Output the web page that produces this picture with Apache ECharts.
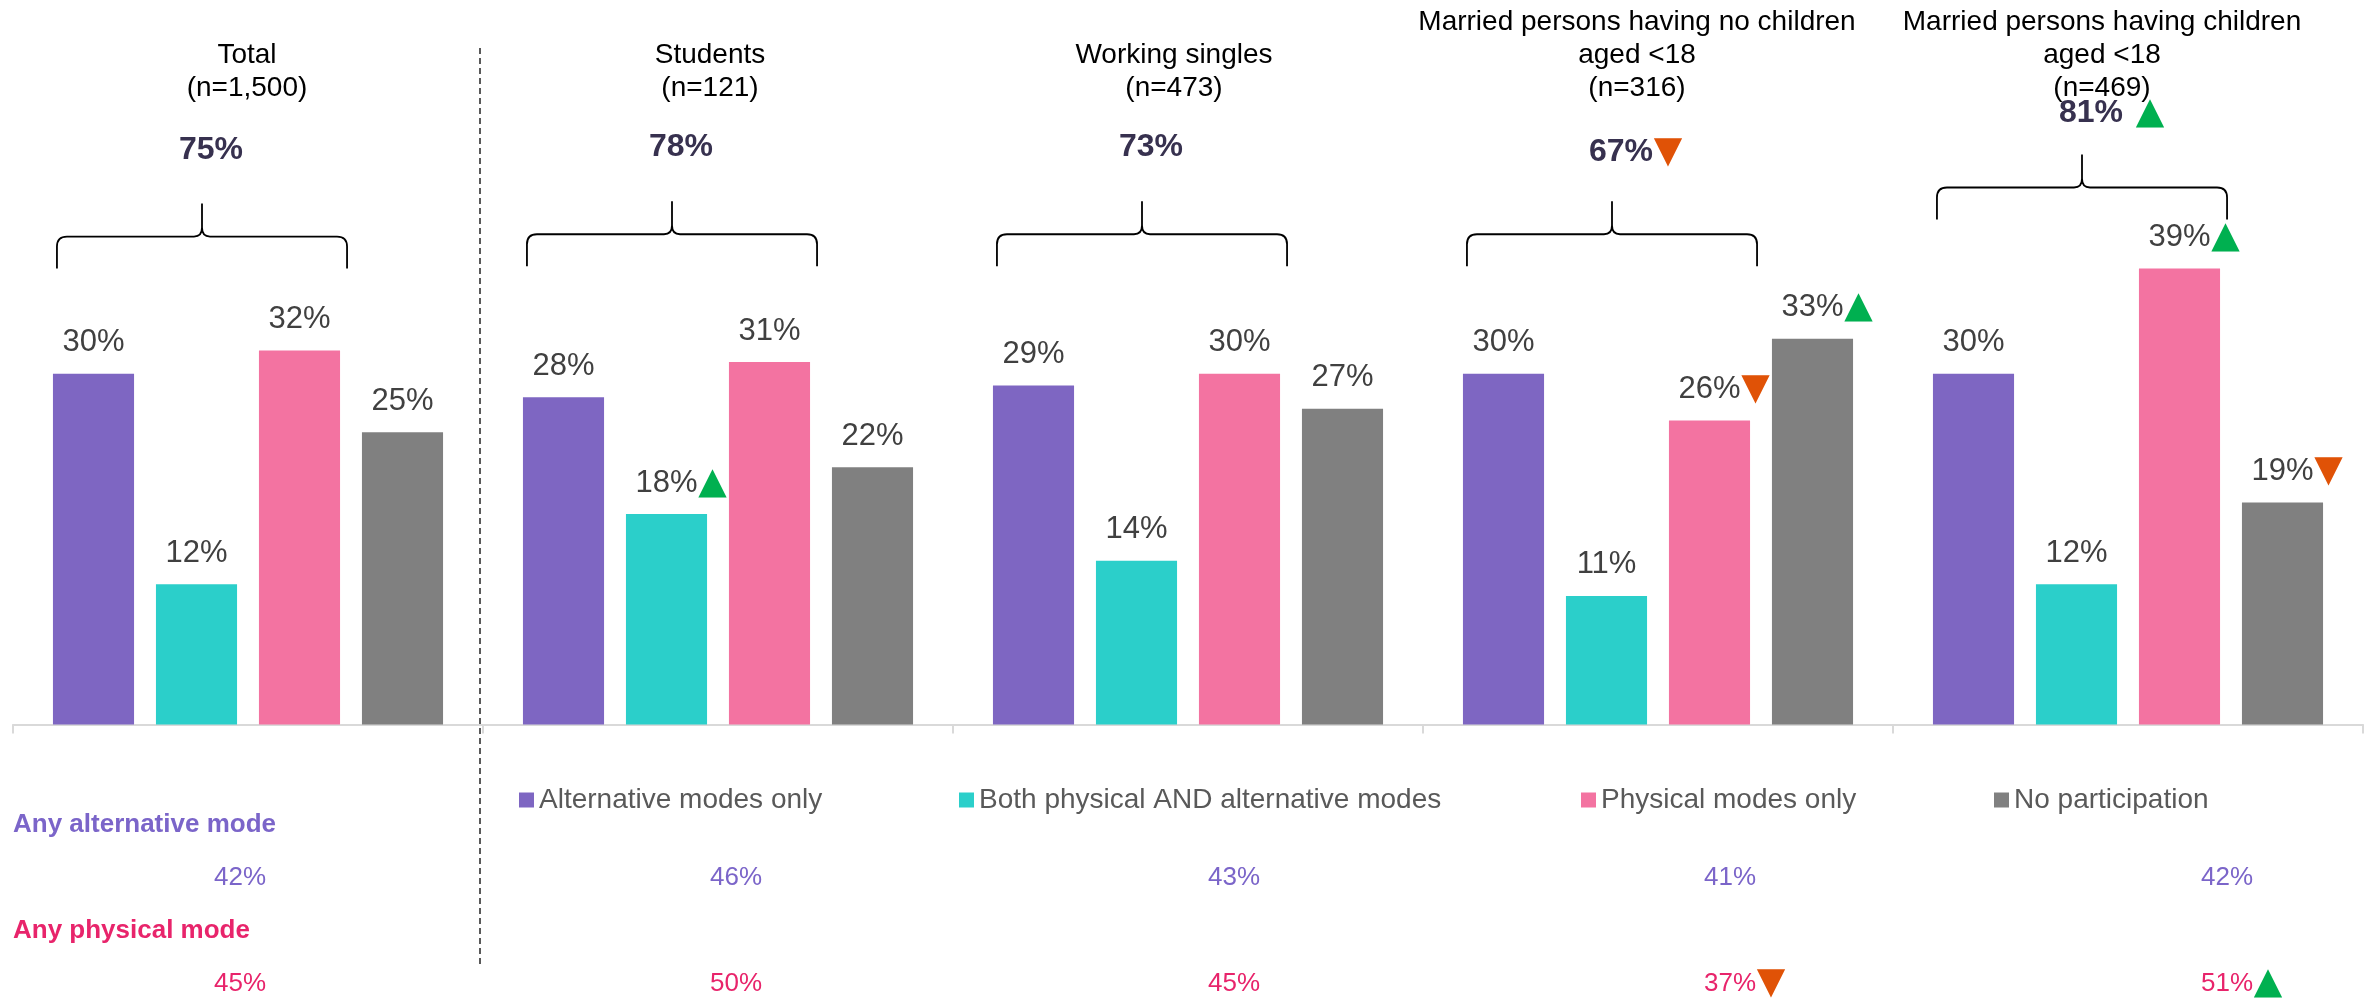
<!DOCTYPE html>
<html>
<head>
<meta charset="utf-8">
<title>Participation by mode</title>
<script src="https://cdn.jsdelivr.net/npm/echarts@6/dist/echarts.min.js"></script>
<style>
  html, body { margin: 0; padding: 0; background: #fff; }
  #chart { width: 2369px; height: 1002px; }
</style>
</head>
<body>
<div id="chart"></div>
<script>
// ---- data ----
const groups = ['Total', 'Students', 'Working singles', 'Married no children', 'Married with children'];
const groupTitles = [
  'Total\n(n=1,500)',
  'Students\n(n=121)',
  'Working singles\n(n=473)',
  'Married persons having no children\naged <18\n(n=316)',
  'Married persons having children\naged <18\n(n=469)'
];
const seriesNames = ['Alternative modes only', 'Both physical AND alternative modes', 'Physical modes only', 'No participation'];
const altOnly = [30, 28, 29, 30, 30];
const bothModes = [12, 18, 14, 11, 12];
const physOnly = [32, 31, 30, 26, 39];
const noPart = [25, 22, 27, 33, 19];
const participated = [75, 78, 73, 67, 81];
const anyAlt = [42, 46, 43, 41, 42];
const anyPhys = [45, 50, 45, 37, 51];
// significance vs total: 'up' | 'down' | ''
const sigAlt = ['', '', '', '', ''];
const sigBoth = ['', 'up', '', '', ''];
const sigPhys = ['', '', '', 'down', 'up'];
const sigNone = ['', '', '', 'up', 'down'];
const sigParticipated = ['', '', '', 'down', 'up'];
const sigAnyAlt = ['', '', '', '', ''];
const sigAnyPhys = ['', '', '', 'down', 'up'];

// ---- look & layout ----
const FONT = '"Liberation Sans", Arial, sans-serif';
const colors = ['#7E66C2', '#2BCFCA', '#F373A1', '#808080'];
const PURPLE = '#7B65C9';
const CRIMSON = '#E8246B';
const GREEN = '#00B050';
const ORANGE = '#E05206';
const BAR_GAP = 0.27;
const CAT_GAP = 0.17;
const MARK_W = 30;
const MARK_SIZE = 37;
const braceLevel = [39, 39.2, 39.2, 39.2, 43.2];
const labelLift = [53, 54, 54, 49, 41];
const overallMarkGap = [0, 0, 0, 0, 12];
const titleShift = [-1, -8, -14, -21, -26];
const pctShift = [-8, 18, 46, 72, 99];
const legendLeft = [519, 959, 1581, 1994];

function markStyles(colorKey) {
  const mk = c => ({ fontFamily: 'DejaVu Sans', fontSize: MARK_SIZE, lineHeight: 36, [colorKey]: c, width: MARK_W, align: 'left' });
  const s = { up: mk(GREEN), down: mk(ORANGE) };
  overallMarkGap.forEach(g => { if (g) s['sp' + g] = { width: g, lineHeight: 36 }; });
  return s;
}
const markRich = markStyles('color');      // for series labels / axis labels
const markRichFill = markStyles('fill');   // for custom-series text elements
const mark = s => s ? `{${s}|${s === 'up' ? '▲' : '▼'}}` : '';

// padding that moves the number by `shift` px, leaving room for a marker on the right
function padFor(shift, markW) {
  const k = 2 * shift + markW;
  return [0, Math.max(0, -k), 0, Math.max(0, k)];
}

const titleRich = {};
groups.forEach((g, i) => {
  titleRich['t' + i] = { fontSize: 28, lineHeight: 33, color: '#000', fontFamily: FONT, padding: padFor(titleShift[i], 0) };
});

const pctRich = Object.assign({}, markRich);
groups.forEach((g, i) => {
  pctRich['a' + i] = { fontSize: 26, lineHeight: 106, color: PURPLE, fontFamily: FONT, padding: padFor(pctShift[i], sigAnyAlt[i] ? MARK_W : 0) };
  pctRich['p' + i] = { fontSize: 26, lineHeight: 106, color: CRIMSON, fontFamily: FONT, padding: padFor(pctShift[i], sigAnyPhys[i] ? MARK_W : 0) };
});

const barSigs = [sigAlt, sigBoth, sigPhys, sigNone];
const barSeries = [altOnly, bothModes, physOnly, noPart].map((vals, k) => ({
  name: seriesNames[k],
  type: 'bar',
  xAxisIndex: 0,
  barGap: (BAR_GAP * 100) + '%',
  barCategoryGap: (CAT_GAP * 100) + '%',
  itemStyle: { color: colors[k] },
  label: {
    show: true,
    position: 'top',
    distance: 13,
    formatter: p => `{v|${p.value}%}` + mark(barSigs[k][p.dataIndex]),
    rich: Object.assign({ v: { fontSize: 31, lineHeight: 36, color: '#404040', fontFamily: FONT } }, markRich)
  },
  data: vals.map((v, i) => barSigs[k][i] ? { value: v, label: { offset: [MARK_W / 2, 0] } } : v)
}));

function renderBrace(params, api) {
  const i = params.dataIndex;
  const cat = api.value(0);
  const base = api.coord([cat, 0]);
  const cw = api.size([1, 0])[0];
  const inner = cw * (1 - CAT_GAP);
  const bw = inner / (4 + 3 * BAR_GAP);
  const left = base[0] - inner / 2;
  const x0 = left + 4;
  const x1 = left + 3 * bw + 2 * bw * BAR_GAP + 7;
  const xm = (x0 + x1) / 2;
  const yEnd = api.coord([cat, api.value(2)])[1];
  const yH = yEnd - 32;
  const yTip = yH - 33;
  const r = 10;
  const d = [
    `M${x0} ${yEnd}`, `L${x0} ${yH + r}`, `Q${x0} ${yH} ${x0 + r} ${yH}`,
    `L${xm - 8} ${yH}`, `Q${xm} ${yH} ${xm} ${yH - 9}`, `L${xm} ${yTip}`,
    `M${xm} ${yH - 9}`, `Q${xm} ${yH} ${xm + 8} ${yH}`,
    `L${x1 - r} ${yH}`, `Q${x1} ${yH} ${x1} ${yH + r}`, `L${x1} ${yEnd}`
  ].join(' ');
  const sig = sigParticipated[i];
  const gap = sig ? overallMarkGap[i] : 0;
  const markW = sig ? MARK_W + gap : 0;
  return {
    type: 'group',
    children: [
      { type: 'path', shape: { pathData: d }, style: { fill: 'none', stroke: '#000', lineWidth: 1.8 } },
      {
        type: 'text',
        x: xm + 9 + markW / 2,
        y: yTip - labelLift[i],
        style: {
          text: `{v|${api.value(1)}%}` + (gap ? `{sp${gap}| }` : '') + mark(sig),
          align: 'center',
          verticalAlign: 'middle',
          fill: '#37314F',
          rich: Object.assign({ v: { fontSize: 32, lineHeight: 36, fontWeight: 'bold', fill: '#37314F', fontFamily: FONT } }, markRichFill)
        }
      }
    ]
  };
}

const chart = echarts.init(document.getElementById('chart'));
chart.setOption({
  animation: false,
  backgroundColor: '#fff',
  textStyle: { fontFamily: FONT },
  grid: { left: 13, right: 6, top: 140, bottom: 277, containLabel: false },
  legend: seriesNames.map((n, k) => ({
    data: [n],
    left: legendLeft[k],
    top: 786,
    padding: 0,
    icon: 'rect',
    itemWidth: 15,
    itemHeight: 15,
    selectedMode: false,
    textStyle: { fontSize: 28, color: '#595959', fontFamily: FONT }
  })),
  xAxis: [
    {
      type: 'category',
      data: groups,
      position: 'bottom',
      axisLine: { lineStyle: { color: '#D9D9D9', width: 2 } },
      axisTick: { show: true, length: 9, interval: 0, lineStyle: { color: '#D9D9D9', width: 2 } },
      axisLabel: {
        interval: 0,
        margin: 100,
        formatter: (v, i) => `{a${i}|${anyAlt[i]}%}${mark(sigAnyAlt[i])}\n{p${i}|${anyPhys[i]}%}${mark(sigAnyPhys[i])}`,
        rich: pctRich
      }
    },
    {
      type: 'category',
      data: groups,
      position: 'top',
      axisLine: { show: false },
      axisTick: { show: false },
      axisLabel: {
        interval: 0,
        margin: 35,
        formatter: (v, i) => groupTitles[i].split('\n').map(l => `{t${i}|${l}}`).join('\n'),
        rich: titleRich
      }
    }
  ],
  yAxis: { type: 'value', min: 0, max: 50, show: false, splitLine: { show: false } },
  series: barSeries.concat([{
    type: 'custom',
    xAxisIndex: 0,
    clip: false,
    z: 5,
    silent: true,
    data: participated.map((v, i) => [i, v, braceLevel[i]]),
    renderItem: renderBrace
  }]),
  graphic: [
    { type: 'text', id: 'hdrAlt', x: 13, y: 825, style: { text: 'Any alternative mode', fill: PURPLE, font: 'bold 26px ' + FONT, align: 'left', verticalAlign: 'middle' } },
    { type: 'text', id: 'hdrPhys', x: 13, y: 931, style: { text: 'Any physical mode', fill: CRIMSON, font: 'bold 26px ' + FONT, align: 'left', verticalAlign: 'middle' } }
  ]
});

// dashed separator between Total and the sub-groups
const c0 = chart.convertToPixel({ xAxisIndex: 0 }, groups[0]);
const c1 = chart.convertToPixel({ xAxisIndex: 0 }, groups[1]);
const sepX = Math.round((c0 + c1) / 2) - 3;
chart.setOption({
  graphic: [{
    type: 'line', id: 'sep',
    shape: { x1: sepX, y1: 48, x2: sepX, y2: 968 },
    style: { stroke: '#595959', lineWidth: 2, lineDash: [6, 4] }
  }]
});
</script>
</body>
</html>
